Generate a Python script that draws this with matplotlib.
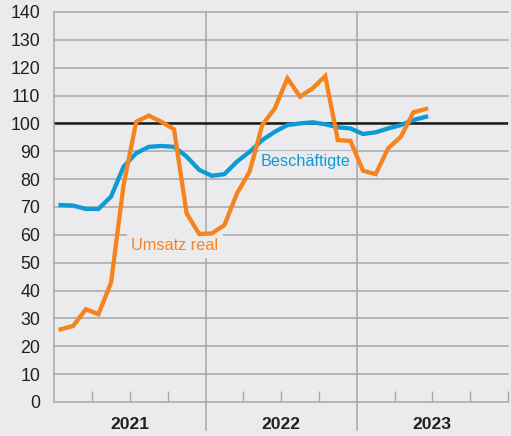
import numpy as np
import matplotlib.pyplot as plt

# monthly values, Jan 2021 .. Jun 2023
umsatz = [26.1, 27.3, 33.3, 31.5, 42.8, 78.0, 100.6, 102.8, 100.6, 97.9,
          67.7, 60.3, 60.5, 63.5, 74.9, 82.7, 99.4, 105.4, 116.2, 109.6,
          112.6, 117.0, 94.0, 93.7, 83.0, 81.8, 91.1, 95.2, 104.0, 105.2]
beschaeftigte = [70.7, 70.5, 69.3, 69.3, 73.7, 84.5, 89.3, 91.6, 91.9, 91.6,
                 88.1, 83.3, 81.2, 81.8, 86.3, 89.8, 94.0, 97.0, 99.4, 100.0,
                 100.4, 99.7, 98.6, 98.2, 96.2, 96.8, 98.2, 99.4, 101.2, 102.4]
years = ["2021", "2022", "2023"]

bg = "#ebebed"
grid_c = "#a7a7a9"
orange = "#f5841f"
blue = "#0d9ad7"
txt = "#231f20"

plt.rcParams['font.family'] = ['Liberation Sans', 'DejaVu Sans']

fig = plt.figure(figsize=(5.11, 4.36), dpi=100, facecolor=bg)
ax = fig.add_axes([0.1063, 0.078, 0.8877, 0.8945], facecolor=bg)

x = np.arange(len(umsatz)) + 0.5

ax.set_xlim(0, 36)
ax.set_ylim(0, 140)

# horizontal grid
for v in range(10, 141, 10):
    ax.plot([0, 36], [v, v], color=grid_c, lw=1.1, zorder=1, clip_on=False)
ax.axhline(100, color="#1a1a1a", lw=1.8, zorder=2)

# year separators, reaching below the axis
for m in (12, 24):
    ax.plot([m, m], [-10, 140], color=grid_c, lw=1.1, zorder=1, clip_on=False)

ax.plot(x, beschaeftigte, color=blue, lw=3.1, zorder=4, solid_joinstyle="miter")
ax.plot(x, umsatz, color=orange, lw=3.1, zorder=5, solid_joinstyle="miter")

ax.text(6.1, 56, "Umsatz real", color=orange, fontsize=11.7, va="center", ha="left",
        zorder=3, bbox=dict(facecolor=bg, edgecolor="none", pad=3))
ax.text(16.4, 86.5, "Beschäftigte", color=blue, fontsize=11.7, va="center", ha="left",
        zorder=3, bbox=dict(facecolor=bg, edgecolor="none", pad=1.5))

for s in ("top", "right"):
    ax.spines[s].set_visible(False)
for s in ("left", "bottom"):
    ax.spines[s].set_color(grid_c)
    ax.spines[s].set_linewidth(1.1)

ax.set_yticks(range(0, 141, 10))
ax.tick_params(axis="y", length=0, pad=10, labelsize=12.8, labelcolor=txt)

# quarterly tick marks pointing up, no labels
ax.set_xticks([q for q in range(3, 37, 3) if q not in (12, 24)])
ax.set_xticklabels([])
ax.tick_params(axis="x", direction="in", length=8, width=1, color=grid_c)

for i, yr in enumerate(years):
    ax.text(12 * i + 6, -8, yr, ha="center", va="center", fontsize=12.6,
            fontweight="bold", color=txt)

fig.savefig("out.png", dpi=100, facecolor=bg)
